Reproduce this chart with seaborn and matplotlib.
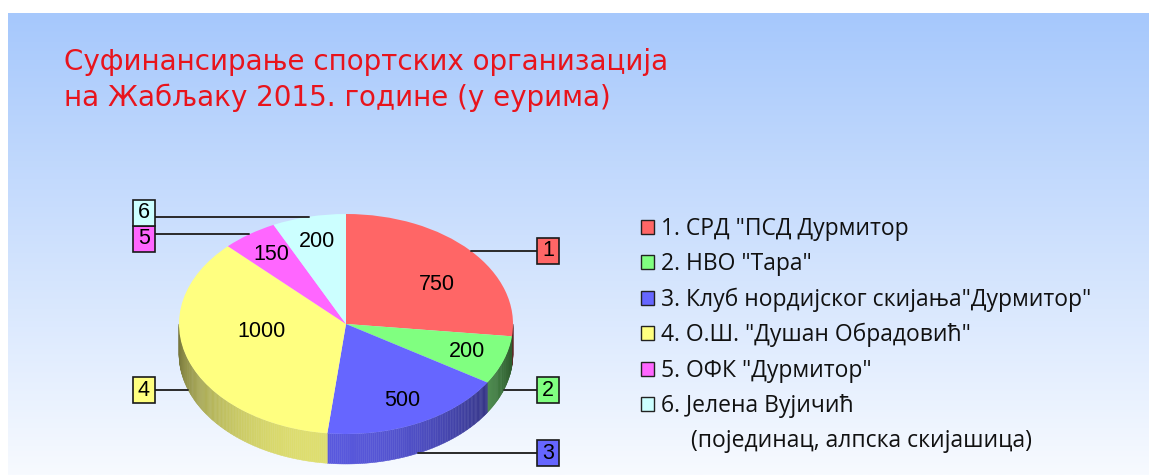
import numpy as np
import matplotlib
matplotlib.use("Agg")
import matplotlib.pyplot as plt
from matplotlib.patches import Patch, Rectangle
from matplotlib.collections import PolyCollection
from matplotlib.colors import to_rgb
import seaborn as sns

# data
numbers = ["1", "2", "3", "4", "5", "6"]
names = [
    '1. СРД "ПСД Дурмитор',
    '2. НВО "Тара"',
    '3. Клуб нордијског скијања"Дурмитор"',
    '4. О.Ш. "Душан Обрадовић"',
    '5. ОФК "Дурмитор"',
    '6. Јелена Вујичић',
]
extra_line = "(појединац, алпска скијашица)"
amounts = [750, 200, 500, 1000, 150, 200]
colors = ["#ff6666", "#80ff80", "#6666ff", "#ffff80", "#ff66ff", "#ccffff"]
title = "Суфинансирање спортских организација\nна Жабљаку 2015. године (у еурима)"

sns.set_theme(style="white")
plt.rcParams["font.family"] = ["DejaVu Sans"]

W, H = 1149, 475
fig = plt.figure(figsize=(W / 100, H / 100), dpi=100)
fig.patch.set_facecolor("white")

# gradient background (blue at top, almost white at bottom), white margins
bg = fig.add_axes([8 / W, 0, 1 - 8 / W, (H - 13) / H])
top_c = np.array(to_rgb("#a6c8fc"))
bot_c = np.array(to_rgb("#f7faff"))
t = np.linspace(0, 1, 256)[:, None]
grad = top_c[None, :] * (1 - t) + bot_c[None, :] * t
bg.imshow(grad[:, None, :], aspect="auto", extent=[0, 1, 0, 1])
bg.set_axis_off()

# pie geometry in pixels
cx, cy = 346, 324      # centre (from top)
rx, ry = 167, 110      # ellipse radii
depth = 30 / ry        # side height in y units

ax = fig.add_axes([0, 0, 1, 1])
ax.patch.set_alpha(0)
total = sum(amounts)
wedges, _, autotexts = ax.pie(
    amounts, colors=colors, startangle=90, counterclock=False,
    autopct=lambda p: f"{round(p * total / 100)}", pctdistance=0.77,
    wedgeprops=dict(linewidth=0, zorder=3),
    textprops=dict(fontsize=15.5, family="Liberation Sans", color="black", zorder=5),
)
ax.set_aspect("auto")
ax.set_xlim(-cx / rx, (W - cx) / rx)
ax.set_ylim(-(H - cy) / ry, cy / ry)
ax.set_axis_off()

# label nudges for the big slices (x, y in radius units)
nudges = [(-0.03, -0.15), (0, 0), (0, 0), (0.22, 0.19), (0, 0), (0, 0)]
for txt, (dx, dy) in zip(autotexts, nudges):
    x, y = txt.get_position()
    txt.set_position((x + dx, y + dy))


def shade(a):
    return 0.37 + 0.5 * max(np.cos(np.radians(a + 100)), 0) ** 1.2


# side walls of the front half
polys, fcs = [], []
for w, c in zip(wedges, colors):
    base = np.array(to_rgb(c))
    lo, hi = sorted([w.theta1, w.theta2])
    for k in (-360, 0, 360):
        a0, a1 = max(lo + k, -180), min(hi + k, 0)
        if a1 <= a0:
            continue
        angs = np.linspace(a0, a1, max(2, int((a1 - a0) / 0.7) + 1))
        for p, q in zip(angs[:-1], angs[1:]):
            xs = np.cos(np.radians([p, q]))
            ys = np.sin(np.radians([p, q]))
            polys.append([(xs[0], ys[0]), (xs[1], ys[1]),
                          (xs[1], ys[1] - depth), (xs[0], ys[0] - depth)])
            fcs.append(np.clip(base * shade((p + q) / 2), 0, 1))
ax.add_collection(PolyCollection(polys, facecolors=fcs, edgecolors=fcs,
                                 linewidths=0.3, zorder=2))

# numbered call-out boxes
bw, bh = 22 / rx, 26 / ry
boxes = []
for w, n, c in zip(wedges, numbers, colors):
    m = np.radians((w.theta1 + w.theta2) / 2)
    axp, ayp = np.cos(m), np.sin(m)
    if ayp < 0:
        ayp -= depth
    side = 1 if axp > 0 else -1
    boxes.append(dict(ax=axp, ay=ayp, bx=side * 1.21, by=ayp, side=side, n=n, c=c))

for side in (1, -1):
    grp = sorted([b for b in boxes if b["side"] == side], key=lambda b: b["by"])
    for b0, b1 in zip(grp[:-1], grp[1:]):
        gap = b1["by"] - b0["by"]
        if gap < bh:
            mid = (b0["by"] + b1["by"]) / 2
            b0["by"], b1["by"] = mid - bh / 2, mid + bh / 2

for b in boxes:
    edge_x = b["bx"] - b["side"] * bw / 2
    ax.plot([b["ax"], edge_x], [b["ay"], b["ay"]], color="#2a2a2a", lw=1.4, zorder=4)
    ax.add_patch(Rectangle((b["bx"] - bw / 2, b["by"] - bh / 2), bw, bh,
                           facecolor=b["c"], edgecolor="#1a1a1a", lw=1.2, zorder=5))
    ax.text(b["bx"], b["by"], b["n"], ha="center", va="center", fontsize=15.5,
            family="Liberation Sans", color="black", zorder=6)

# legend
handles = [Patch(facecolor=c, edgecolor="#222222", linewidth=1.0) for c in colors]
handles.append(Patch(facecolor="none", edgecolor="none"))
labels = names + ["     " + extra_line]
leg = ax.legend(handles, labels, loc="upper left",
                bbox_to_anchor=(641 / W, 1 - 217 / H), bbox_transform=fig.transFigure,
                frameon=False, borderpad=0, borderaxespad=0,
                handlelength=0.56, handleheight=0.56, handletextpad=0.33,
                labelspacing=0.49, labelcolor="#111111",
                prop=dict(family="Open Sans", size=16.5))

# title
fig.text(64 / W, 1 - 80 / H, title, color="#e8141c", fontsize=20,
         family="DejaVu Sans", ha="left", va="center", linespacing=1.3)

fig.savefig("out.png", dpi=100)
